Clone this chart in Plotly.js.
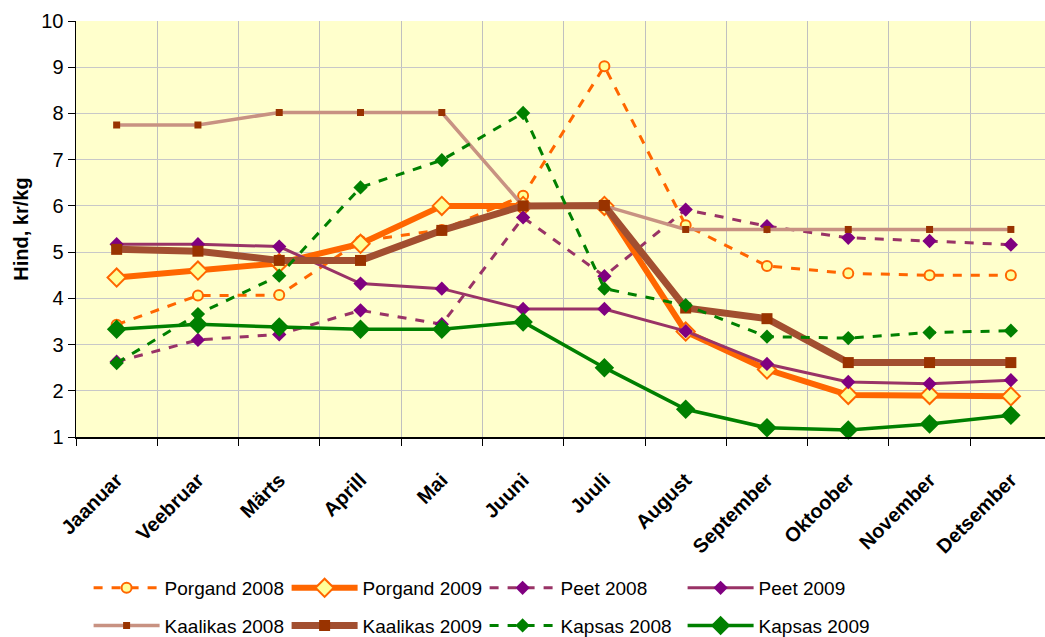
<!DOCTYPE html>
<html>
<head>
<meta charset="utf-8">
<script src="https://cdn.plot.ly/plotly-3.0.1.min.js"></script>
<style>html,body{margin:0;padding:0;background:#fff;}#chart{width:1045px;height:637px;}</style>
</head>
<body>
<div id="chart"></div>
<script>
const months = ['Jaanuar','Veebruar','Märts','Aprill','Mai','Juuni','Juuli','August','September','Oktoober','November','Detsember'];

const porgand2008 = [3.43, 4.06, 4.07, 5.24, 5.48, 6.22, 9.02, 5.58, 4.70, 4.54, 4.50, 4.50];
const porgand2009 = [4.45, 4.60, 4.76, 5.18, 6.00, 6.00, 6.00, 3.28, 2.46, 1.91, 1.91, 1.88];
const peet2008    = [2.63, 3.10, 3.22, 3.74, 3.44, 5.75, 4.48, 5.92, 5.56, 5.31, 5.24, 5.16];
const peet2009    = [5.17, 5.17, 5.12, 4.32, 4.21, 3.77, 3.77, 3.29, 2.58, 2.19, 2.15, 2.23];
const kaalikas2008 = [7.75, 7.75, 8.02, 8.02, 8.02, 6.00, 6.00, 5.49, 5.49, 5.49, 5.49, 5.49];
const kaalikas2009 = [5.06, 5.02, 4.82, 4.82, 5.47, 6.00, 6.01, 3.79, 3.56, 2.61, 2.61, 2.61];
const kapsas2008  = [2.60, 3.66, 4.49, 6.40, 6.99, 8.01, 4.21, 3.85, 3.17, 3.14, 3.26, 3.30];
const kapsas2009  = [3.33, 3.44, 3.38, 3.33, 3.33, 3.49, 2.50, 1.60, 1.20, 1.15, 1.28, 1.47];

const names = ['Porgand 2008','Porgand 2009','Peet 2008','Peet 2009','Kaalikas 2008','Kaalikas 2009','Kapsas 2008','Kapsas 2009'];

function tr(name, y, line, marker, leg){
  return {type:'scatter', mode:'lines+markers', name:name, x:months, y:y, line:line, marker:marker, cliponaxis:false, legend:leg};
}

const traces = [
  tr(names[0], porgand2008, {color:'#FF6600', width:3, dash:'dash'}, {symbol:'circle', size:10, color:'#FFFF99', line:{color:'#FF6600', width:2}}, 'legend'),
  tr(names[1], porgand2009, {color:'#FF6600', width:6}, {symbol:'diamond', size:14, color:'#FFFF99', line:{color:'#FF6600', width:2}}, 'legend'),
  tr(names[2], peet2008, {color:'#993366', width:3, dash:'dash'}, {symbol:'diamond', size:11, color:'#800080'}, 'legend'),
  tr(names[3], peet2009, {color:'#993366', width:3}, {symbol:'diamond', size:11, color:'#800080'}, 'legend'),
  tr(names[4], kaalikas2008, {color:'#C89282', width:3.5}, {symbol:'square', size:7, color:'#993300'}, 'legend2'),
  tr(names[5], kaalikas2009, {color:'#A24F30', width:7}, {symbol:'square', size:11, color:'#993300'}, 'legend2'),
  tr(names[6], kapsas2008, {color:'#008000', width:3, dash:'dash'}, {symbol:'diamond', size:11, color:'#008000'}, 'legend2'),
  tr(names[7], kapsas2009, {color:'#008000', width:3.5}, {symbol:'diamond', size:15, color:'#008000'}, 'legend2')
];

const legCommon = {
  orientation:'h',
  xref:'paper', yref:'container',
  x:0.013, xanchor:'left',
  yanchor:'middle',
  font:{size:19},
  itemwidth:66,
  entrywidth:117,
  bgcolor:'rgba(0,0,0,0)'
};

const layout = {
  width:1045, height:637,
  margin:{l:76, r:0, t:21, b:200},
  paper_bgcolor:'#FFFFFF',
  plot_bgcolor:'#FFFFCC',
  font:{family:'Liberation Sans, Arial, sans-serif', color:'#000'},
  showlegend:true,
  xaxis:{
    type:'category',
    range:[-0.5, 11.42],
    tickson:'boundaries',
    ticks:'outside', ticklen:7, tickcolor:'#000',
    showgrid:true, gridcolor:'#C0C0C0', gridwidth:1,
    showline:true, linecolor:'#000', linewidth:1.5,
    tickangle:-45,
    ticklabelstandoff:22,
    tickfont:{size:20, weight:'bold'},
    zeroline:false,
    automargin:false
  },
  yaxis:{
    range:[1,10], dtick:1, tick0:1,
    ticks:'outside', ticklen:7, tickcolor:'#000',
    showgrid:true, gridcolor:'#C8C8C8', gridwidth:1,
    showline:true, linecolor:'#000', linewidth:1.5,
    tickfont:{size:20},
    title:{text:'Hind, kr/kg', font:{size:20, weight:'bold'}, standoff:7},
    zeroline:false,
    automargin:false
  },
  legend: Object.assign({}, legCommon, {y:0.077}),
  legend2: Object.assign({}, legCommon, {y:0.018})
};

Plotly.newPlot('chart', traces, layout, {displayModeBar:false, staticPlot:true});
</script>
</body>
</html>
